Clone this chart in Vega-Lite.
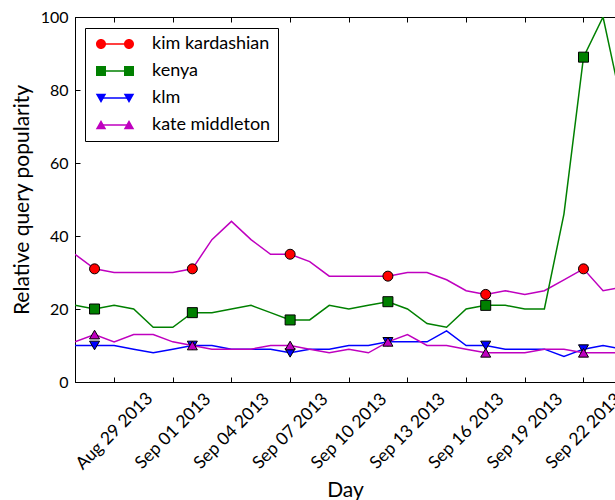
{
  "$schema": "https://vega.github.io/schema/vega-lite/v6.json",
  "width": 540,
  "height": 365,
  "autosize": {"type": "none"},
  "padding": {"left": 75, "top": 17, "right": 0, "bottom": 118},
  "background": "white",
  "config": {
    "font": "Lato",
    "view": {"stroke": "black", "strokeWidth": 1},
    "axis": {
      "grid": false,
      "domainColor": "black",
      "tickColor": "black",
      "labelColor": "black",
      "titleColor": "black",
      "labelFont": "Lato",
      "titleFont": "Lato",
      "labelFontSize": 16,
      "titleFontSize": 21,
      "titleFontWeight": "normal",
      "tickSize": -5,
      "tickWidth": 1,
      "domainWidth": 1
    },
    "legend": {"labelFont": "Lato", "labelFontSize": 18, "labelColor": "black"}
  },
  "data": {
    "values": [
      {"day": "2013-08-27", "term": "kim kardashian", "value": 35},
      {"day": "2013-08-28", "term": "kim kardashian", "value": 31},
      {"day": "2013-08-29", "term": "kim kardashian", "value": 30},
      {"day": "2013-08-30", "term": "kim kardashian", "value": 30},
      {"day": "2013-08-31", "term": "kim kardashian", "value": 30},
      {"day": "2013-09-01", "term": "kim kardashian", "value": 30},
      {"day": "2013-09-02", "term": "kim kardashian", "value": 31},
      {"day": "2013-09-03", "term": "kim kardashian", "value": 39},
      {"day": "2013-09-04", "term": "kim kardashian", "value": 44},
      {"day": "2013-09-05", "term": "kim kardashian", "value": 39},
      {"day": "2013-09-06", "term": "kim kardashian", "value": 35},
      {"day": "2013-09-07", "term": "kim kardashian", "value": 35},
      {"day": "2013-09-08", "term": "kim kardashian", "value": 33},
      {"day": "2013-09-09", "term": "kim kardashian", "value": 29},
      {"day": "2013-09-10", "term": "kim kardashian", "value": 29},
      {"day": "2013-09-11", "term": "kim kardashian", "value": 29},
      {"day": "2013-09-12", "term": "kim kardashian", "value": 29},
      {"day": "2013-09-13", "term": "kim kardashian", "value": 30},
      {"day": "2013-09-14", "term": "kim kardashian", "value": 30},
      {"day": "2013-09-15", "term": "kim kardashian", "value": 28},
      {"day": "2013-09-16", "term": "kim kardashian", "value": 25},
      {"day": "2013-09-17", "term": "kim kardashian", "value": 24},
      {"day": "2013-09-18", "term": "kim kardashian", "value": 25},
      {"day": "2013-09-19", "term": "kim kardashian", "value": 24},
      {"day": "2013-09-20", "term": "kim kardashian", "value": 25},
      {"day": "2013-09-21", "term": "kim kardashian", "value": 28},
      {"day": "2013-09-22", "term": "kim kardashian", "value": 31},
      {"day": "2013-09-23", "term": "kim kardashian", "value": 25},
      {"day": "2013-09-24", "term": "kim kardashian", "value": 26},
      {"day": "2013-08-27", "term": "kenya", "value": 21},
      {"day": "2013-08-28", "term": "kenya", "value": 20},
      {"day": "2013-08-29", "term": "kenya", "value": 21},
      {"day": "2013-08-30", "term": "kenya", "value": 20},
      {"day": "2013-08-31", "term": "kenya", "value": 15},
      {"day": "2013-09-01", "term": "kenya", "value": 15},
      {"day": "2013-09-02", "term": "kenya", "value": 19},
      {"day": "2013-09-03", "term": "kenya", "value": 19},
      {"day": "2013-09-04", "term": "kenya", "value": 20},
      {"day": "2013-09-05", "term": "kenya", "value": 21},
      {"day": "2013-09-06", "term": "kenya", "value": 19},
      {"day": "2013-09-07", "term": "kenya", "value": 17},
      {"day": "2013-09-08", "term": "kenya", "value": 17},
      {"day": "2013-09-09", "term": "kenya", "value": 21},
      {"day": "2013-09-10", "term": "kenya", "value": 20},
      {"day": "2013-09-11", "term": "kenya", "value": 21},
      {"day": "2013-09-12", "term": "kenya", "value": 22},
      {"day": "2013-09-13", "term": "kenya", "value": 20},
      {"day": "2013-09-14", "term": "kenya", "value": 16},
      {"day": "2013-09-15", "term": "kenya", "value": 15},
      {"day": "2013-09-16", "term": "kenya", "value": 20},
      {"day": "2013-09-17", "term": "kenya", "value": 21},
      {"day": "2013-09-18", "term": "kenya", "value": 21},
      {"day": "2013-09-19", "term": "kenya", "value": 20},
      {"day": "2013-09-20", "term": "kenya", "value": 20},
      {"day": "2013-09-21", "term": "kenya", "value": 46},
      {"day": "2013-09-22", "term": "kenya", "value": 89},
      {"day": "2013-09-23", "term": "kenya", "value": 100},
      {"day": "2013-09-24", "term": "kenya", "value": 75},
      {"day": "2013-08-27", "term": "klm", "value": 10},
      {"day": "2013-08-28", "term": "klm", "value": 10},
      {"day": "2013-08-29", "term": "klm", "value": 10},
      {"day": "2013-08-30", "term": "klm", "value": 9},
      {"day": "2013-08-31", "term": "klm", "value": 8},
      {"day": "2013-09-01", "term": "klm", "value": 9},
      {"day": "2013-09-02", "term": "klm", "value": 10},
      {"day": "2013-09-03", "term": "klm", "value": 10},
      {"day": "2013-09-04", "term": "klm", "value": 9},
      {"day": "2013-09-05", "term": "klm", "value": 9},
      {"day": "2013-09-06", "term": "klm", "value": 9},
      {"day": "2013-09-07", "term": "klm", "value": 8},
      {"day": "2013-09-08", "term": "klm", "value": 9},
      {"day": "2013-09-09", "term": "klm", "value": 9},
      {"day": "2013-09-10", "term": "klm", "value": 10},
      {"day": "2013-09-11", "term": "klm", "value": 10},
      {"day": "2013-09-12", "term": "klm", "value": 11},
      {"day": "2013-09-13", "term": "klm", "value": 11},
      {"day": "2013-09-14", "term": "klm", "value": 11},
      {"day": "2013-09-15", "term": "klm", "value": 14},
      {"day": "2013-09-16", "term": "klm", "value": 10},
      {"day": "2013-09-17", "term": "klm", "value": 10},
      {"day": "2013-09-18", "term": "klm", "value": 9},
      {"day": "2013-09-19", "term": "klm", "value": 9},
      {"day": "2013-09-20", "term": "klm", "value": 9},
      {"day": "2013-09-21", "term": "klm", "value": 7},
      {"day": "2013-09-22", "term": "klm", "value": 9},
      {"day": "2013-09-23", "term": "klm", "value": 10},
      {"day": "2013-09-24", "term": "klm", "value": 9},
      {"day": "2013-08-27", "term": "kate middleton", "value": 11},
      {"day": "2013-08-28", "term": "kate middleton", "value": 13},
      {"day": "2013-08-29", "term": "kate middleton", "value": 11},
      {"day": "2013-08-30", "term": "kate middleton", "value": 13},
      {"day": "2013-08-31", "term": "kate middleton", "value": 13},
      {"day": "2013-09-01", "term": "kate middleton", "value": 11},
      {"day": "2013-09-02", "term": "kate middleton", "value": 10},
      {"day": "2013-09-03", "term": "kate middleton", "value": 9},
      {"day": "2013-09-04", "term": "kate middleton", "value": 9},
      {"day": "2013-09-05", "term": "kate middleton", "value": 9},
      {"day": "2013-09-06", "term": "kate middleton", "value": 10},
      {"day": "2013-09-07", "term": "kate middleton", "value": 10},
      {"day": "2013-09-08", "term": "kate middleton", "value": 9},
      {"day": "2013-09-09", "term": "kate middleton", "value": 8},
      {"day": "2013-09-10", "term": "kate middleton", "value": 9},
      {"day": "2013-09-11", "term": "kate middleton", "value": 8},
      {"day": "2013-09-12", "term": "kate middleton", "value": 11},
      {"day": "2013-09-13", "term": "kate middleton", "value": 13},
      {"day": "2013-09-14", "term": "kate middleton", "value": 10},
      {"day": "2013-09-15", "term": "kate middleton", "value": 10},
      {"day": "2013-09-16", "term": "kate middleton", "value": 9},
      {"day": "2013-09-17", "term": "kate middleton", "value": 8},
      {"day": "2013-09-18", "term": "kate middleton", "value": 8},
      {"day": "2013-09-19", "term": "kate middleton", "value": 8},
      {"day": "2013-09-20", "term": "kate middleton", "value": 9},
      {"day": "2013-09-21", "term": "kate middleton", "value": 9},
      {"day": "2013-09-22", "term": "kate middleton", "value": 8},
      {"day": "2013-09-23", "term": "kate middleton", "value": 8},
      {"day": "2013-09-24", "term": "kate middleton", "value": 8}
    ]
  },
  "layer": [
    {
      "mark": {"type": "line", "clip": true, "strokeWidth": 1.5},
      "encoding": {
        "x": {
          "field": "day",
          "type": "temporal",
          "scale": {
            "type": "utc",
            "domain": [
              {"year": 2013, "month": 8, "date": 27, "utc": true},
              {"year": 2013, "month": 9, "date": 23, "hours": 14, "minutes": 40, "utc": true}
            ]
          },
          "axis": {
            "orient": "bottom",
            "title": "Day",
            "titlePadding": 7,
            "format": "%b %d %Y",
            "values": [
              {"year": 2013, "month": 8, "date": 29, "utc": true},
              {"year": 2013, "month": 9, "date": 1, "utc": true},
              {"year": 2013, "month": 9, "date": 4, "utc": true},
              {"year": 2013, "month": 9, "date": 7, "utc": true},
              {"year": 2013, "month": 9, "date": 10, "utc": true},
              {"year": 2013, "month": 9, "date": 13, "utc": true},
              {"year": 2013, "month": 9, "date": 16, "utc": true},
              {"year": 2013, "month": 9, "date": 19, "utc": true},
              {"year": 2013, "month": 9, "date": 22, "utc": true}
            ],
            "labelFontSize": 17.5,
            "labelAngle": -45,
            "labelAlign": "center",
            "labelBaseline": "middle",
            "labelPadding": 54,
            "labelOverlap": false,
            "labelFlush": false,
            "labelBound": false
          }
        },
        "y": {
          "field": "value",
          "type": "quantitative",
          "scale": {"domain": [0, 100], "nice": false, "zero": true},
          "axis": {
            "title": "Relative query popularity",
            "values": [0, 20, 40, 60, 80, 100],
            "labelPadding": 12,
            "titlePadding": 8,
            "labelFlush": false,
            "labelOverlap": false
          }
        },
        "color": {
          "field": "term",
          "type": "nominal",
          "scale": {
            "domain": ["kim kardashian", "kenya", "klm", "kate middleton"],
            "range": ["#bf00bf", "#008000", "#0000ff", "#bf00bf"]
          },
          "legend": null
        }
      }
    },
    {
      "transform": [{"filter": "((toDate(datum.day) - utc(2013, 7, 27)) / 86400000) % 5 == 1"}],
      "mark": {"type": "point", "filled": true, "size": 100, "stroke": "black", "strokeWidth": 1, "opacity": 1, "clip": true},
      "encoding": {
        "x": {
          "field": "day",
          "type": "temporal",
          "axis": {
            "orient": "top",
            "title": null,
            "labels": false,
            "values": [
              {"year": 2013, "month": 8, "date": 29, "utc": true},
              {"year": 2013, "month": 9, "date": 1, "utc": true},
              {"year": 2013, "month": 9, "date": 4, "utc": true},
              {"year": 2013, "month": 9, "date": 7, "utc": true},
              {"year": 2013, "month": 9, "date": 10, "utc": true},
              {"year": 2013, "month": 9, "date": 13, "utc": true},
              {"year": 2013, "month": 9, "date": 16, "utc": true},
              {"year": 2013, "month": 9, "date": 19, "utc": true},
              {"year": 2013, "month": 9, "date": 22, "utc": true}
            ]
          }
        },
        "y": {"field": "value", "type": "quantitative"},
        "fill": {
          "field": "term",
          "type": "nominal",
          "scale": {
            "domain": ["kim kardashian", "kenya", "klm", "kate middleton"],
            "range": ["#ff0000", "#008000", "#0000ff", "#bf00bf"]
          },
          "legend": null
        },
        "shape": {
          "field": "term",
          "type": "nominal",
          "scale": {
            "domain": ["kim kardashian", "kenya", "klm", "kate middleton"],
            "range": ["circle", "square", "triangle-down", "triangle-up"]
          },
          "legend": null
        }
      }
    },
    {
      "transform": [{"filter": "datum.value < 0"}],
      "mark": {"type": "line", "strokeWidth": 1.5},
      "encoding": {
        "x": {"field": "day", "type": "temporal", "axis": null},
        "y": {"field": "value", "type": "quantitative"},
        "stroke": {
          "field": "term",
          "type": "nominal",
          "scale": {
            "domain": ["kim kardashian", "kenya", "klm", "kate middleton"],
            "range": ["#ff0000", "#008000", "#0000ff", "#bf00bf"]
          },
          "legend": {
            "orient": "none",
            "legendX": 10,
            "legendY": 11,
            "title": null,
            "symbolType": "M0,0L4,0",
            "symbolSize": 196,
            "symbolStrokeWidth": 1.5,
            "labelOpacity": 0,
            "strokeColor": "black",
            "padding": 7,
            "labelOffset": 42,
            "rowPadding": 9
          }
        }
      }
    },
    {
      "transform": [{"filter": "datum.value < 0"}],
      "mark": {"type": "point", "filled": true, "size": 196, "stroke": "black", "strokeWidth": 1, "opacity": 1},
      "encoding": {
        "x": {"field": "day", "type": "temporal", "axis": null},
        "y": {"field": "value", "type": "quantitative"},
        "fill": {
          "field": "term",
          "type": "nominal",
          "scale": {
            "domain": ["kim kardashian", "kenya", "klm", "kate middleton"],
            "range": ["#ff0000", "#008000", "#0000ff", "#bf00bf"]
          },
          "legend": {
            "orient": "none",
            "legendX": 10,
            "legendY": 11,
            "title": null,
            "symbolSize": 196,
            "symbolStrokeColor": "black",
            "symbolStrokeWidth": 1,
            "symbolOpacity": 1,
            "padding": 7,
            "labelOffset": 42,
            "rowPadding": 9
          }
        },
        "shape": {
          "field": "term",
          "type": "nominal",
          "scale": {
            "domain": ["kim kardashian", "kenya", "klm", "kate middleton"],
            "range": [
              "M-0.714,0A0.714,0.714,0,1,0,0.714,0A0.714,0.714,0,1,0,-0.714,0ZM3.286,0A0.714,0.714,0,1,0,4.714,0A0.714,0.714,0,1,0,3.286,0Z",
              "M-0.714,-0.714H0.714V0.714H-0.714ZM3.286,-0.714H4.714V0.714H3.286Z",
              "M-0.75,-0.6L0.75,-0.6L0,0.7ZM3.25,-0.6L4.75,-0.6L4,0.7Z",
              "M-0.75,0.6L0.75,0.6L0,-0.7ZM3.25,0.6L4.75,0.6L4,-0.7Z"
            ]
          },
          "legend": {
            "orient": "none",
            "legendX": 10,
            "legendY": 11,
            "title": null,
            "symbolSize": 196,
            "symbolStrokeColor": "black",
            "symbolStrokeWidth": 1,
            "symbolOpacity": 1,
            "padding": 7,
            "labelOffset": 42,
            "rowPadding": 9
          }
        }
      }
    }
  ],
  "resolve": {
    "scale": {"color": "independent", "fill": "independent", "shape": "independent", "stroke": "independent"},
    "axis": {"x": "independent"},
    "legend": {"fill": "independent", "shape": "independent", "stroke": "independent", "color": "independent"}
  }
}
